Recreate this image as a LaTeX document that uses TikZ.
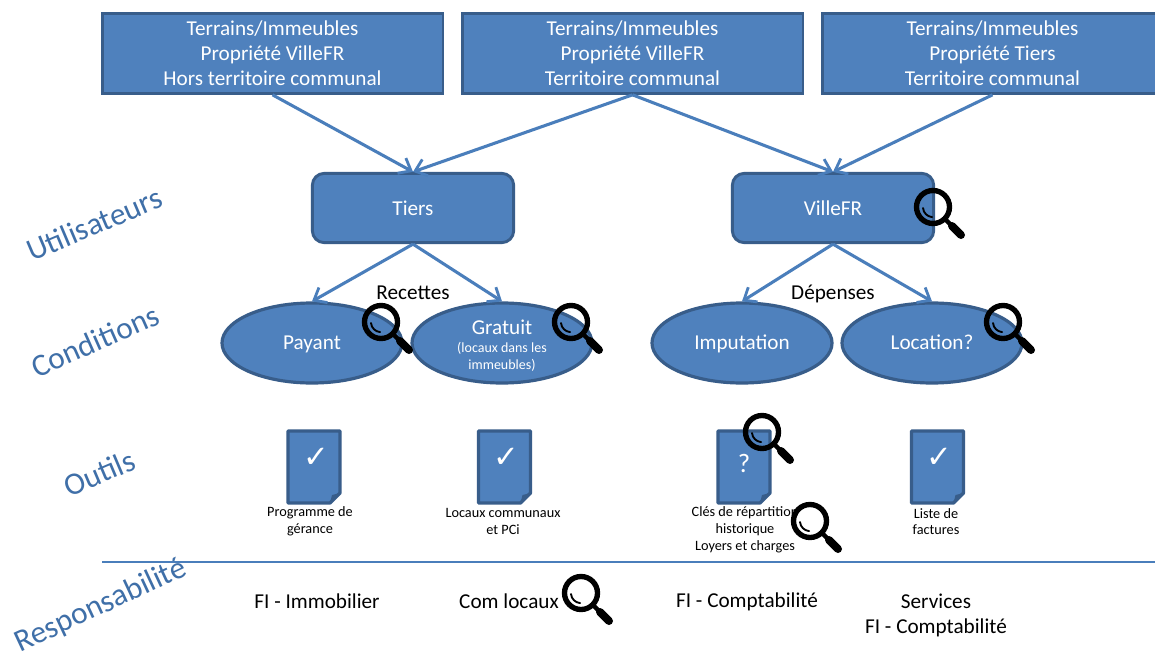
\documentclass[tikz,border=0pt]{standalone}
\usepackage{fontspec}
\setmainfont{Carlito}
\usetikzlibrary{arrows.meta,shapes.geometric}
\definecolor{fillblue}{HTML}{4F81BD}
\definecolor{edgeblue}{HTML}{385D8A}
\definecolor{lineblue}{HTML}{4A7EBB}
\definecolor{labelblue}{HTML}{3F6FA8}
\newfontfamily\symfont{DejaVu Sans}
\tikzset{
  x=0.75pt,y=-0.75pt,
  sqbox/.style={draw=edgeblue,fill=fillblue,line width=2pt,minimum width=255.5pt,minimum height=60pt,inner sep=0pt,text=white,align=center,font=\fontsize{15.9}{18.9}\selectfont},
  rbox/.style={draw=edgeblue,fill=fillblue,line width=2.2pt,rounded corners=9pt,minimum width=151pt,minimum height=52pt,inner sep=0pt,text=white,font=\fontsize{15.9}{17}\selectfont},
  oval/.style={ellipse,draw=edgeblue,fill=fillblue,line width=2.4pt,minimum width=135pt,minimum height=60pt,inner sep=0pt,text=white,align=center,text height=11pt,text depth=2pt,font=\fontsize{15.9}{17}\selectfont},
  conn/.style={draw=lineblue,line width=2.3pt,-{Straight Barb[length=8pt,width=13pt,line width=2.1pt]}},
  side/.style={text=labelblue,font=\fontsize{23.5}{26}\selectfont},
  plain/.style={text=black,align=center,font=\fontsize{15.9}{18.8}\selectfont},
  small/.style={text=black,align=center,font=\fontsize{10.7}{12.6}\selectfont},
  doc/.pic={
    \draw[fill=fillblue,draw=edgeblue,line width=2.5pt,line join=round] (-26,-36) -- (26,-36) -- (26,26) -- (16,36) -- (-26,36) -- cycle;
    \fill[edgeblue] (26,26) -- (16,36) -- (18,28) -- cycle;
  },
  lens/.pic={
    \draw[black,line width=4pt] (0,0) circle (16.5);
    \draw[black,line width=1.4pt,line cap=round] (-10,1) arc (175:95:10);
    \draw[black,line width=3.2pt] (13,13) -- (20,20);
    \draw[black,line width=6pt,line cap=round] (19,19) -- (28,28);
  },
}
\begin{document}
\begin{tikzpicture}
\useasboundingbox (0,0) rectangle (1155,656);
\clip (0,0) rectangle (1155,656);
\fill[white] (0,0) rectangle (1155,656);
% top boxes
\node[sqbox] (b1) at (272.5,53.5) {Terrains/Immeubles\\Propriété VilleFR\\Hors territoire communal};
\node[sqbox] (b2) at (632.5,53.5) {Terrains/Immeubles\\Propriété VilleFR\\Territoire communal};
\node[sqbox] (b3) at (992.5,53.5) {Terrains/Immeubles\\Propriété Tiers\\Territoire communal};
% users
\node[rbox] (tiers) at (413,208) {Tiers};
\node[rbox] (ville) at (833,208) {VilleFR};
% conditions
\node[oval] (payant) at (312,343) {Payant};
\node[oval] (gratuit) at (502,343) {};
\node[text=white,font=\fontsize{15.9}{17}\selectfont] (gratuitT) at (502,327) {Gratuit};
\node[text=white,align=center,font=\fontsize{10.5}{13}\selectfont] (gratuitS) at (502,357) {(locaux dans les\\immeubles)};
\node[oval] (imput) at (742,343) {Imputation};
\node[oval] (loc) at (932,343) {Location?};
% connectors
\draw[conn] (b1.south) -- (tiers.north);
\draw[conn] (b2.south) -- (tiers.north);
\draw[conn] (b2.south) -- (ville.north);
\draw[conn] (b3.south) -- (ville.north);
\draw[conn] (tiers.south) -- (payant.north);
\draw[conn] (tiers.south) -- (gratuit.north);
\draw[conn] (ville.south) -- (imput.north);
\draw[conn] (ville.south) -- (loc.north);
% connector labels
\node[plain] (rec) at (413,293) {Recettes};
\node[plain] (dep) at (833,294) {Dépenses};
% side labels
\node[side,rotate=23] (u) at (94,224) {Utilisateurs};
\node[side,rotate=24] (c) at (95,341) {Conditions};
\node[side,rotate=23] (o) at (99,473) {Outils};
\node[side,rotate=25] (r) at (101,606) {Responsabilité};
% documents
\pic at (314,467) {doc};
\pic at (504.5,467) {doc};
\pic at (744,467) {doc};
\pic at (937.5,467) {doc};
\node[text=white,font=\symfont\fontsize{23}{26}\selectfont] (c1) at (316,458) {✓};
\node[text=white,font=\symfont\fontsize{23}{26}\selectfont] (c2) at (506,458) {✓};
\node[text=white,font=\fontsize{20}{24}\selectfont] (c3) at (744,463) {?};
\node[text=white,font=\symfont\fontsize{23}{26}\selectfont] (c4) at (939,458) {✓};
\node[small] (t1) at (310,521.5) {Programme de\\gérance};
\node[small] (t2) at (503,521.5) {Locaux communaux\\et PCi};
\node[small] (t3) at (745,530) {Clés de répartition\\historique\\Loyers et charges};
\node[small] (t4) at (936,521.5) {Liste de\\factures};
% rule
\coordinate (ruleA) at (102,562);
\coordinate (ruleB) at (1155,562);
\draw[lineblue,line width=1pt] (ruleA) -- (ruleB);
% responsibilities
\node[plain] (f1) at (317,601) {FI - Immobilier};
\node[plain] (f2) at (509,601) {Com locaux};
\node[plain] (f3) at (747,602) {FI - Comptabilité};
\node[plain] (f4) at (936,615) {Services\\FI - Comptabilité};
% magnifiers
\pic at (381,322) {lens};
\pic at (571,322) {lens};
\pic at (933,207) {lens};
\pic at (1003,322) {lens};
\pic at (762,432) {lens};
\pic at (810,521) {lens};
\pic at (581,593) {lens};
\end{tikzpicture}
\end{document}
